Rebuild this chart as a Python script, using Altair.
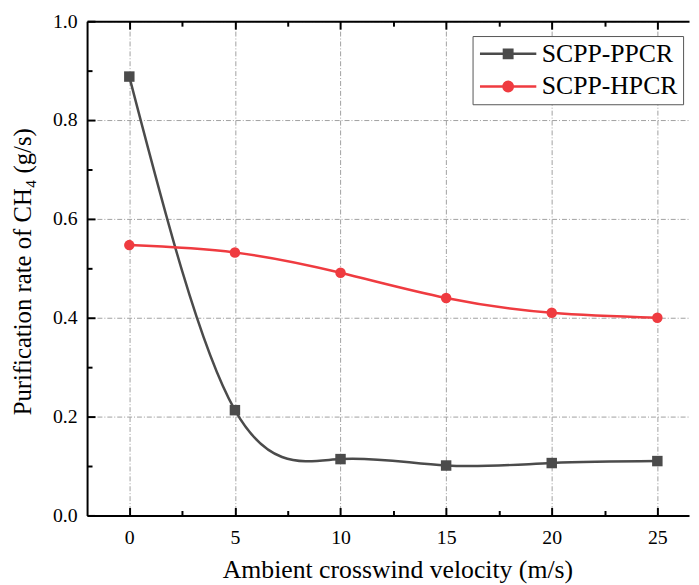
import altair as alt
import pandas as pd

# ---- data ----
velocity = [0, 5, 10, 15, 20, 25]
ppcr = [0.888, 0.213, 0.114, 0.101, 0.106, 0.110]
hpcr = [0.547, 0.532, 0.491, 0.440, 0.410, 0.400]
series_names = ["SCPP-PPCR", "SCPP-HPCR"]
series_colors = ["#4b4b4b", "#ef3b40"]
x_major = [0, 5, 10, 15, 20, 25]
x_minor = [2.5, 7.5, 12.5, 17.5, 22.5]
y_major = [0.0, 0.2, 0.4, 0.6, 0.8, 1.0]
y_minor = [0.1, 0.3, 0.5, 0.7, 0.9]

df = pd.DataFrame({
    "v": velocity + velocity,
    "rate": ppcr + hpcr,
    "series": [series_names[0]] * len(velocity) + [series_names[1]] * len(velocity),
})

FONT = "Liberation Serif"
GRID_DASH = [5, 2, 1, 2]

xs = alt.Scale(domain=[-2, 26.5], nice=False, zero=False)
ys = alt.Scale(domain=[0, 1], nice=False, zero=False)
cs = alt.Scale(domain=series_names, range=series_colors)
marker_shapes = alt.Scale(domain=series_names, range=["square", "circle"])
# legend glyphs: a line segment with the series marker in its middle
legend_paths = [
    "M-4.75,0H4.75M-0.71,-0.71H0.71V0.71H-0.71Z",
    "M-4.75,0H4.75M0.79,0A0.79,0.79 0 1,1 -0.79,0A0.79,0.79 0 1,1 0.79,0Z",
]
legend_shapes = alt.Scale(domain=series_names, range=legend_paths)


def tick_axis(orient, values, size, offset):
    return alt.Axis(orient=orient, values=values, offset=offset, ticks=True,
                    tickSize=size, tickWidth=2, tickColor="black",
                    labels=False, domain=False, grid=False, title=None)


x_main = alt.Axis(orient="bottom", values=x_major, title="Ambient crosswind velocity (m/s)",
                  ticks=False, domain=True, domainColor="black", domainWidth=2,
                  grid=True, gridColor="#a0a0a0", gridDash=GRID_DASH, gridWidth=1,
                  labelFont=FONT, labelFontSize=20, labelColor="black",
                  titleFont=FONT, titleFontSize=26, titleFontWeight="normal", titleColor="black",
                  labelPadding=12, titlePadding=10, titleX=314, format="d")
y_main = alt.Axis(orient="left", values=y_major, title="Purification rate of CH\u2084 (g/s)",
                  ticks=False, domain=True, domainColor="black", domainWidth=2,
                  grid=True, gridColor="#a0a0a0", gridDash=GRID_DASH, gridWidth=1,
                  labelFont=FONT, labelFontSize=20, labelColor="black",
                  titleFont=FONT, titleFontSize=25, titleFontWeight="normal", titleColor="black",
                  labelPadding=10, titlePadding=17, titleY=253, format=".1f")
x_top = alt.Axis(orient="top", ticks=False, labels=False, grid=False, title=None,
                 domain=True, domainColor="black", domainWidth=2)

base = alt.Chart(df)

lines = base.mark_line(interpolate="natural", strokeWidth=2.5).encode(
    x=alt.X("v:Q", scale=xs, axis=x_main),
    y=alt.Y("rate:Q", scale=ys, axis=y_main),
    color=alt.Color("series:N", scale=cs, legend=None),
    detail="series:N",
)

points = base.mark_point(filled=True, size=112, opacity=1).encode(
    x=alt.X("v:Q", scale=xs, axis=tick_axis("bottom", x_major, 8, -8)),
    y=alt.Y("rate:Q", scale=ys, axis=tick_axis("left", y_major, 8, -8)),
    color=alt.Color("series:N", scale=cs, legend=None),
    shape=alt.Shape("series:N", scale=marker_shapes, legend=None),
)

leg = alt.Legend(title=None, orient="none", legendX=390, legendY=15,
                 symbolSize=144, symbolStrokeWidth=2.5, symbolOffset=18,
                 labelFont=FONT, labelFontSize=26, labelColor="black", labelOffset=21,
                 labelLimit=0, padding=5, rowPadding=7,
                 strokeColor="#555555", fillColor="white")

legend_carrier = base.mark_point(filled=True, opacity=1, clip=True).encode(
    x=alt.X("v:Q", scale=xs, axis=tick_axis("bottom", x_minor, 5, -5)),
    y=alt.value(-2000),
    color=alt.Color("series:N", scale=cs, legend=leg),
    stroke=alt.Stroke("series:N", scale=cs, legend=leg),
    shape=alt.Shape("series:N", scale=legend_shapes, legend=leg),
)

top_domain = base.mark_line(opacity=0).encode(
    x=alt.X("v:Q", scale=xs, axis=x_top),
    y=alt.Y("rate:Q", scale=ys, axis=tick_axis("left", y_minor, 5, -5)),
    detail="series:N",
)
top_major = base.mark_line(opacity=0).encode(
    x=alt.X("v:Q", scale=xs, axis=tick_axis("top", x_major, 8, -8)),
    y=alt.Y("rate:Q", scale=ys, axis=None),
    detail="series:N",
)
top_minor = base.mark_line(opacity=0).encode(
    x=alt.X("v:Q", scale=xs, axis=tick_axis("top", x_minor, 5, -5)),
    y=alt.Y("rate:Q", scale=ys, axis=None),
    detail="series:N",
)

chart = (
    alt.layer(lines, points, legend_carrier, top_domain, top_major, top_minor)
    .resolve_scale(shape="independent", color="independent", stroke="independent")
    .resolve_axis(x="independent", y="independent")
    .properties(width=609, height=500,
                autosize=alt.AutoSizeParams(type="none"),
                padding={"left": 80, "top": 10, "right": 2, "bottom": 67},
                background="white")
    .configure(font=FONT)
    .configure_view(stroke=None)
)

chart.save("out.html", embed_options={"renderer": "svg", "actions": False})
